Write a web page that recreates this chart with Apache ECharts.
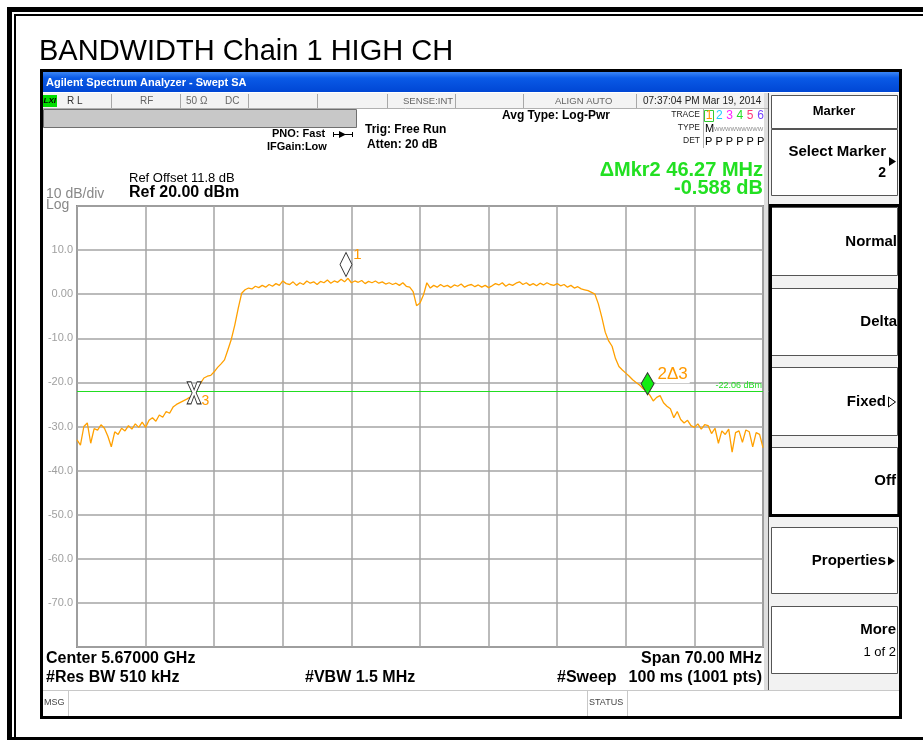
<!DOCTYPE html>
<html>
<head>
<meta charset="utf-8">
<script src="https://cdn.jsdelivr.net/npm/echarts@6/dist/echarts.min.js"></script>
<style>
html,body{margin:0;padding:0;background:#fff;}
#chart{width:923px;height:740px;}
</style>
</head>
<body>
<div id="chart"></div>
<script>
// sweep 5.635 - 5.705 GHz, one sample every 0.35 MHz, levels in dBm
var sweepStart = 5635;
var sweepStep = 0.35;
var levels = [
  -33.0,-34.2,-30.0,-29.2,-33.8,-30.5,-30.8,-29.6,-30.4,-32.2,
  -34.6,-31.2,-31.8,-30.4,-31.0,-29.8,-30.6,-29.4,-30.2,-29.0,
  -30.2,-28.6,-28.0,-28.8,-27.4,-27.9,-26.6,-27.0,-25.6,-25.0,
  -24.6,-24.2,-23.8,-23.3,-22.6,-21.0,-20.2,-19.0,-18.6,-18.4,
  -17.6,-16.6,-15.8,-14.9,-12.6,-10.2,-7.0,-3.2,0.2,1.0,
  1.4,1.2,1.8,1.5,2.0,1.6,2.2,1.8,2.4,2.0,
  3.0,2.4,2.2,2.8,2.0,2.6,2.2,3.0,2.5,2.8,
  2.2,2.9,2.6,3.2,2.5,3.0,2.7,3.4,2.8,3.6,
  2.6,3.0,2.7,3.1,2.4,2.9,2.6,3.0,2.5,2.8,
  2.3,2.6,2.2,2.5,2.0,2.6,1.8,1.6,0.6,-2.6,
  -2.0,-0.2,2.6,1.4,2.0,1.6,2.2,1.7,2.0,1.5,
  2.1,1.8,2.3,1.6,2.0,2.2,1.7,2.1,1.6,2.0,
  1.5,1.9,2.4,2.1,2.6,1.8,2.3,2.0,2.5,2.8,
  2.2,2.6,2.0,2.4,1.9,2.5,2.1,2.6,2.2,2.0,
  2.4,1.9,2.2,1.6,2.0,1.4,1.7,1.2,1.0,0.8,
  0.4,0.0,-2.2,-5.2,-8.6,-10.6,-11.8,-14.6,-16.4,-17.2,
  -17.9,-18.6,-19.4,-20.0,-20.6,-21.4,-22.0,-22.9,-24.2,-23.4,
  -23.0,-24.6,-25.4,-26.0,-28.0,-26.6,-28.4,-29.2,-28.6,-29.8,
  -30.2,-29.4,-30.6,-29.6,-29.8,-31.6,-30.4,-33.8,-31.0,-31.8,
  -30.6,-35.8,-31.4,-31.0,-33.6,-30.8,-31.2,-34.6,-31.4,-31.8,
  -34.8
];
var levelTicks = [10, 0, -10, -20, -30, -40, -50, -60, -70];
var levelTickText = ['10.0', '0.00', '-10.0', '-20.0', '-30.0', '-40.0', '-50.0', '-60.0', '-70.0'];
var markerFreqs = [5662.45, 5693.22, 5646.95];
var markerLevels = [4.0, -22.8, -22.35];
var markerNames = ['1', '2\u03943', '3'];
var displayLine = -22.06;

var FONT = '"Liberation Sans", Arial, sans-serif';
function fnt(size, weight) { return (weight || 'normal') + ' ' + size + 'px ' + FONT; }
function txt(x, y, s, size, o) {
  o = o || {};
  return { type: 'text', x: x, y: y, silent: true, z: 10,
    style: { text: s, fill: o.c || '#000', font: fnt(size, o.w),
      textAlign: o.a || 'left', textVerticalAlign: 'middle' } };
}
function box(x, y, w, h, fill, stroke, lw) {
  return { type: 'rect', silent: true, z: 1, shape: { x: x, y: y, width: w, height: h },
    style: { fill: fill || 'none', stroke: stroke || null, lineWidth: lw || 1 } };
}
function seg(x1, y1, x2, y2, c, lw) {
  return { type: 'line', silent: true, z: 2, shape: { x1: x1, y1: y1, x2: x2, y2: y2 },
    style: { stroke: c || '#000', lineWidth: lw || 1 } };
}
function tri(pts, fill, stroke) {
  return { type: 'polygon', silent: true, z: 10, shape: { points: pts },
    style: { fill: fill, stroke: stroke || null, lineWidth: 1 } };
}

var deco = [];
// page frame
deco.push(box(7, 7, 916, 5, '#000'));
deco.push(box(7, 7, 5, 733, '#000'));
deco.push(box(14, 14, 909, 2, '#000'));
deco.push(box(14, 14, 2, 726, '#000'));
deco.push(box(7, 737, 916, 3, '#000'));
deco.push(txt(39, 52, 'BANDWIDTH Chain 1 HIGH CH', 29));

// analyzer window
deco.push({ type: 'rect', silent: true, z: 1, shape: { x: 43, y: 72, width: 856, height: 20 },
  style: { fill: new echarts.graphic.LinearGradient(0, 0, 0, 1, [
    { offset: 0, color: '#3b86f5' }, { offset: 0.3, color: '#0a5ae6' }, { offset: 1, color: '#0046d4' }]) } });
deco.push(txt(46, 83, 'Agilent Spectrum Analyzer - Swept SA', 11, { c: '#fff', w: 'bold' }));
deco.push(box(41.5, 70.5, 859, 647, 'none', '#000', 3));

// status row
deco.push(box(43, 93, 725, 15, '#f3f3f3'));
deco.push(seg(43, 108.5, 768, 108.5, '#b0b0b0'));
[111, 180, 248, 317, 387, 455, 523, 636].forEach(function (x) { deco.push(seg(x + 0.5, 94, x + 0.5, 108, '#a8a8a8')); });
deco.push(box(43, 95, 14, 12, '#00dd00'));
deco.push(txt(43.5, 101, 'LXI', 8, { w: 'bold italic' }));
deco.push(txt(67, 101, 'R L', 10, { c: '#333' }));
deco.push(txt(140, 101, 'RF', 10, { c: '#666' }));
deco.push(txt(186, 101, '50 \u03a9', 10, { c: '#666' }));
deco.push(txt(225, 101, 'DC', 10, { c: '#666' }));
deco.push(txt(403, 101, 'SENSE:INT', 9.5, { c: '#666' }));
deco.push(txt(555, 101, 'ALIGN AUTO', 9.5, { c: '#666' }));
deco.push(txt(643, 101, '07:37:04 PM Mar 19, 2014', 10, { c: '#222' }));

// settings block
deco.push(box(43.5, 109.5, 313, 18, '#c8c8c8', '#707070'));
deco.push(txt(272, 134, 'PNO: Fast', 11, { w: 'bold' }));
deco.push(seg(333, 134.5, 353, 134.5, '#000'));
deco.push(tri([[339, 131], [346, 134.5], [339, 138]], '#000'));
deco.push(seg(333.5, 132, 333.5, 137, '#000'));
deco.push(seg(352.5, 132, 352.5, 137, '#000'));
deco.push(txt(267, 147, 'IFGain:Low', 11, { w: 'bold' }));
deco.push(txt(365, 130, 'Trig: Free Run', 12, { w: 'bold' }));
deco.push(txt(367, 145, 'Atten: 20 dB', 12, { w: 'bold' }));
deco.push(txt(502, 116, 'Avg Type: Log-Pwr', 12, { w: 'bold' }));
deco.push(txt(700, 115, 'TRACE', 8.5, { a: 'right', c: '#222' }));
deco.push(txt(700, 128, 'TYPE', 8.5, { a: 'right', c: '#222' }));
deco.push(txt(700, 141, 'DET', 8.5, { a: 'right', c: '#222' }));
deco.push(seg(703.5, 109, 703.5, 148, '#b0b0b0'));
deco.push(box(704.5, 110.5, 9, 11, 'none', '#33cc33'));
var traceColors = ['#ff9900', '#22ccff', '#ff22ff', '#22dd22', '#ff3377', '#7744ff'];
traceColors.forEach(function (c, i) { deco.push(txt(709 + i * 10.3, 116, String(i + 1), 12, { a: 'center', c: c })); });
deco.push(txt(705, 129, 'M', 11, { c: '#000' }));
deco.push(txt(714, 129, 'WWWWWWWWW', 5.8, { c: '#888' }));
deco.push(txt(705, 142, 'P P P P P P', 11, { c: '#000' }));

deco.push(txt(763, 170, '\u0394Mkr2 46.27 MHz', 20, { a: 'right', w: 'bold', c: '#22e022' }));
deco.push(txt(763, 188, '-0.588 dB', 20, { a: 'right', w: 'bold', c: '#22e022' }));
deco.push(txt(129, 178, 'Ref Offset 11.8 dB', 13));
deco.push(txt(129, 193, 'Ref 20.00 dBm', 16, { w: 'bold' }));
deco.push(txt(46, 194, '10 dB/div', 14, { c: '#888' }));
deco.push(txt(46, 205, 'Log', 14, { c: '#888' }));

// footer
deco.push(txt(46, 659, 'Center 5.67000 GHz', 16, { w: 'bold' }));
deco.push(txt(46, 678, '#Res BW 510 kHz', 16, { w: 'bold' }));
deco.push(txt(305, 678, '#VBW 1.5 MHz', 16, { w: 'bold' }));
deco.push(txt(762, 659, 'Span 70.00 MHz', 16, { a: 'right', w: 'bold' }));
deco.push(txt(557, 678, '#Sweep', 16, { w: 'bold' }));
deco.push(txt(762, 678, '100 ms (1001 pts)', 16, { a: 'right', w: 'bold' }));
deco.push(seg(43, 690.5, 899, 690.5, '#c8c8c8'));
deco.push(seg(68.5, 691, 68.5, 716, '#c8c8c8'));
deco.push(seg(587.5, 691, 587.5, 716, '#c8c8c8'));
deco.push(seg(627.5, 691, 627.5, 716, '#c8c8c8'));
deco.push(txt(44, 703, 'MSG', 9, { c: '#444' }));
deco.push(txt(589, 703, 'STATUS', 9, { c: '#444' }));

// softkey panel
deco.push(box(764, 93, 5, 597, '#dedede'));
deco.push(seg(768.5, 93, 768.5, 690, '#555'));
deco.push(box(769, 93, 130, 597, '#f2f2f2'));
var keys = [[95, 128], [129, 195], [207, 275], [288, 355], [367, 435], [447, 514], [527, 593], [606, 673]];
keys.forEach(function (k) { deco.push(box(771.5, k[0] + 0.5, 126, k[1] - k[0], '#fff', '#555')); });
deco.push(box(770.5, 205.5, 129, 310, 'none', '#000', 3));
deco.push(txt(834, 111, 'Marker', 13, { a: 'center', w: 'bold' }));
deco.push(txt(886, 152, 'Select Marker', 15, { a: 'right', w: 'bold' }));
deco.push(tri([[889, 157], [896, 161.5], [889, 166]], '#000'));
deco.push(txt(886, 173, '2', 14, { a: 'right', w: 'bold' }));
deco.push(txt(897, 242, 'Normal', 15, { a: 'right', w: 'bold' }));
deco.push(txt(897, 322, 'Delta', 15, { a: 'right', w: 'bold' }));
deco.push(txt(886, 402, 'Fixed', 15, { a: 'right', w: 'bold' }));
deco.push(tri([[888.5, 397], [895.5, 402], [888.5, 407]], '#fff', '#000'));
deco.push(txt(896, 481, 'Off', 15, { a: 'right', w: 'bold' }));
deco.push(txt(886, 561, 'Properties', 15, { a: 'right', w: 'bold' }));
deco.push(tri([[888, 556.5], [895, 561], [888, 565.5]], '#000'));
deco.push(txt(896, 630, 'More', 15, { a: 'right', w: 'bold' }));
deco.push(txt(896, 652, '1 of 2', 13, { a: 'right' }));

// trace points
var trace = levels.map(function (v, i) { return [sweepStart + i * sweepStep, v]; });

var xMark = 'path://M0,0 L4,0 L7,8 L10,0 L14,0 L9,11 L14,22 L10,22 L7,14 L4,22 L0,22 L5,11 Z';
var markerLooks = [
  { symbol: 'diamond', size: [12, 24], offset: [0, -12], fill: '#fff', lab: [0, -10], fs: 15, dist: 1 },
  { symbol: 'diamond', size: [13, 22], offset: [0, -11], fill: '#11ee11', lab: [0, -9], fs: 17, dist: 1 },
  { symbol: xMark, size: [14, 22], offset: [0, 0], fill: '#fff', lab: [-1, 8], fs: 14, dist: 1 }
];
var markerData = markerFreqs.map(function (fq, i) {
  var m = markerLooks[i];
  return {
    value: [fq, markerLevels[i]],
    symbol: m.symbol, symbolSize: m.size, symbolOffset: m.offset,
    itemStyle: { color: m.fill, borderColor: '#333', borderWidth: 1, opacity: 1 },
    label: { show: true, formatter: markerNames[i], position: 'right', distance: m.dist,
      offset: m.lab, color: '#ff9900', fontSize: m.fs, fontFamily: FONT,
      backgroundColor: i === 1 ? '#fff' : 'transparent', padding: i === 1 ? [0, 2] : 0 }
  };
});

var option = {
  animation: false,
  backgroundColor: '#fff',
  graphic: { elements: deco },
  grid: { left: 77, top: 206, right: 160, bottom: 93, show: true,
    borderColor: '#8c8c8c', borderWidth: 2, backgroundColor: '#fff' },
  xAxis: {
    type: 'value', min: 5635, max: 5705, interval: 7,
    axisLine: { show: false }, axisTick: { show: false }, axisLabel: { show: false },
    splitLine: { show: true, lineStyle: { color: '#a4a4a4', width: 1.5 } }
  },
  yAxis: {
    type: 'value', min: -80, max: 20, interval: 10,
    axisLine: { show: false }, axisTick: { show: false },
    axisLabel: {
      color: '#a0a0a0', fontSize: 11, fontFamily: FONT, margin: 4,
      formatter: function (v) {
        var k = levelTicks.indexOf(v);
        return k < 0 ? '' : levelTickText[k];
      }
    },
    splitLine: { show: true, lineStyle: { color: '#a4a4a4', width: 1.5 } }
  },
  series: [{
    type: 'line',
    data: trace,
    showSymbol: false,
    silent: true,
    z: 3,
    lineStyle: { color: '#ffa000', width: 1.3 },
    markLine: {
      silent: true, symbol: 'none',
      lineStyle: { color: '#22dd22', type: 'solid', width: 1 },
      label: { show: true, position: 'insideEndTop', formatter: displayLine.toFixed(2) + ' dBm',
        color: '#22dd22', fontSize: 9, fontFamily: FONT, distance: 1 },
      data: [{ yAxis: displayLine }]
    }
  }, {
    type: 'scatter',
    data: markerData,
    silent: true,
    z: 5
  }]
};

var myChart = echarts.init(document.getElementById('chart'));
myChart.setOption(option, true);
</script>
</body>
</html>
